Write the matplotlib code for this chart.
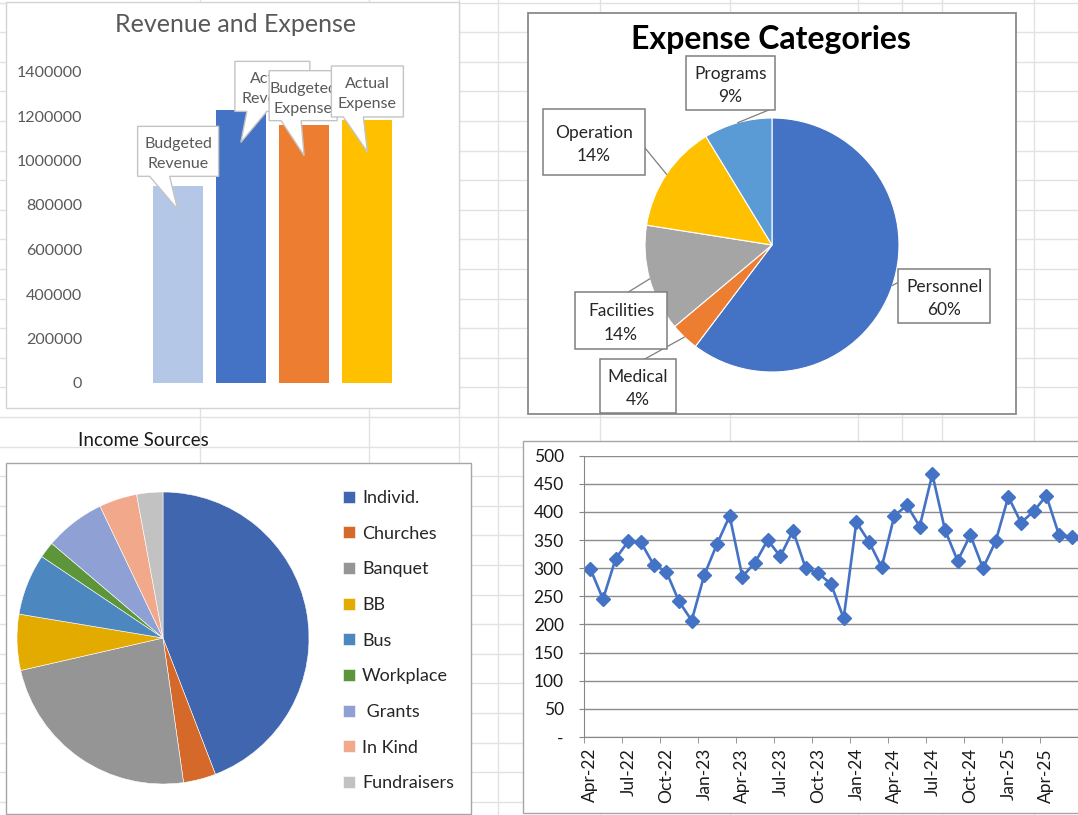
import numpy as np
import pandas as pd
import matplotlib
matplotlib.use("Agg")
import matplotlib.pyplot as plt
from matplotlib.patches import Rectangle, Polygon

plt.rcParams["font.family"] = ["Lato", "DejaVu Sans"]

W, H = 1078, 815

# ---------------- DATA ----------------
bar_names = ["Budgeted Revenue", "Actual Revenue", "Budgeted Expense", "Actual Expense"]
bar_values = [887000, 1229000, 1161000, 1180000]
bar_colors = ["#B4C7E7", "#4472C4", "#ED7D31", "#FFC000"]

exp_names = ["Personnel", "Medical", "Facilities", "Operation", "Programs"]
exp_values = [60.3, 3.6, 13.6, 13.8, 8.7]
exp_colors = ["#4472C4", "#ED7D31", "#A5A5A5", "#FFC000", "#5B9BD5"]

inc_names = ["Individ.", "Churches", "Banquet", "BB", "Bus", "Workplace", " Grants", "In Kind", "Fundraisers"]
inc_values = [44.2, 3.6, 23.7, 6.2, 6.8, 1.8, 6.7, 4.2, 2.9]
inc_colors = ["#3F66AE", "#D4692A", "#959595", "#E3AA00", "#4C87C0", "#5D953A", "#8FA1D4", "#F2A88A", "#C2C2C2"]

month_labels = [d.strftime("%b-%y") for d in pd.date_range("2022-04-01", periods=39, freq="MS")]
monthly_counts = [299, 245, 317, 348, 346, 306, 294, 241, 207, 288,
                  343, 393, 285, 310, 350, 321, 367, 300, 291, 272,
                  211, 382, 347, 302, 393, 412, 374, 467, 368, 313,
                  359, 300, 348, 427, 381, 401, 429, 359, 356]

fig = plt.figure(figsize=(W / 100, H / 100), dpi=100)


def px_axes(x0, y0, x1, y1, **kw):
    # axes placed in image pixel coordinates (origin top-left)
    return fig.add_axes([x0 / W, 1 - y1 / H, (x1 - x0) / W, (y1 - y0) / H], **kw)


# ---------------- SHEET BACKGROUND ----------------
bg = px_axes(0, 0, W, H)
bg.set_xlim(0, W)
bg.set_ylim(H, 0)
bg.axis("off")
for y in np.arange(2.5, H, 29.6):
    bg.axhline(y, color="#e2e2e2", lw=1, zorder=1)
for x in [200, 369, 459, 498, 600, 730, 858, 902, 942, 1034]:
    bg.axvline(x, color="#e2e2e2", lw=1, zorder=1)

# chart panels sit above the cell grid
bg.add_patch(Rectangle((6, 2), 453, 406, fc="white", ec="#d4d4d4", lw=1, zorder=3))
bg.add_patch(Rectangle((528, 13), 488, 401, fc="white", ec="#8a8a8a", lw=1.3, zorder=3))
bg.add_patch(Rectangle((6, 463), 465, 351, fc="white", ec="#a6a6a6", lw=1, zorder=3))
bg.add_patch(Rectangle((523, 441), 600, 372, fc="white", ec="#a6a6a6", lw=1, zorder=3))
bg.text(78, 440, "Income Sources", fontsize=13.5, color="#1a1a1a", va="center", ha="left", zorder=4)

# ---------------- REVENUE AND EXPENSE ----------------
ax_bar = px_axes(146, 71.5, 399, 383)
ax_bar.bar(range(len(bar_values)), bar_values, width=0.79, color=bar_colors)
ax_bar.set_xlim(-0.5, 3.5)
ax_bar.set_ylim(0, 1400000)
ax_bar.set_yticks(range(0, 1400001, 200000))
ax_bar.set_yticklabels([str(v) for v in range(0, 1400001, 200000)])
ax_bar.set_xticks([])
ax_bar.tick_params(axis="y", length=0, pad=46, labelsize=11.5, labelcolor="#595959")
ax_bar.patch.set_alpha(0)
for s in ax_bar.spines.values():
    s.set_visible(False)
bg.text(236, 24, "Revenue and Expense", fontsize=18, color="#595959", ha="center", va="center", zorder=4)

# ---------------- EXPENSE CATEGORIES ----------------
ax_exp = px_axes(645, 118, 899, 372)
exp_wedges, _ = ax_exp.pie(exp_values, colors=exp_colors, startangle=90, counterclock=False,
                           wedgeprops=dict(edgecolor="white", linewidth=0.8))
ax_exp.set_xlim(-1, 1)
ax_exp.set_ylim(-1, 1)
bg.text(771, 39, "Expense Categories", fontsize=23, fontweight="bold", color="black",
        ha="center", va="center", zorder=4)

# ---------------- INCOME SOURCES ----------------
ax_inc = px_axes(17, 492, 309, 784)
inc_wedges, _ = ax_inc.pie(inc_values, colors=inc_colors, startangle=90, counterclock=False,
                           wedgeprops=dict(edgecolor="white", linewidth=0.4))
ax_inc.set_xlim(-1, 1)
ax_inc.set_ylim(-1, 1)
ax_inc.legend(inc_wedges, inc_names, loc="upper left", bbox_to_anchor=(343 / W, 1 - 490 / H),
              bbox_transform=fig.transFigure, frameon=False, fontsize=13, labelcolor="#262626",
              handlelength=0.65, handleheight=0.65, handletextpad=0.4, labelspacing=1.09,
              borderpad=0, borderaxespad=0)

# ---------------- MONTHLY LINE ----------------
ax_line = px_axes(584, 455.7, 1078, 737)
x = np.arange(len(monthly_counts))
ax_line.plot(x, monthly_counts, color="#4472C4", lw=1.9, marker="D", markersize=7.5)
ax_line.set_xlim(-0.5, len(monthly_counts) - 0.5)
ax_line.set_ylim(0, 500)
ax_line.set_yticks(range(0, 501, 50))
ax_line.set_yticklabels(["-"] + [str(v) for v in range(50, 501, 50)])
ax_line.set_xticks(x[::3])
ax_line.set_xticklabels(month_labels[::3], rotation=90)
ax_line.set_xticks(np.arange(-0.5, len(monthly_counts), 3), minor=True)
ax_line.tick_params(axis="x", which="major", length=0, pad=8, labelsize=12.5, labelcolor="#1a1a1a")
ax_line.tick_params(axis="x", which="minor", length=4.5, color="#868686")
ax_line.tick_params(axis="y", length=3.6, color="#868686", pad=11, labelsize=12.5, labelcolor="#1a1a1a")
ax_line.yaxis.grid(True, color="#8c8c8c", lw=1)
ax_line.set_axisbelow(True)
for k in ["top", "right"]:
    ax_line.spines[k].set_visible(False)
for k in ["left", "bottom"]:
    ax_line.spines[k].set_color("#868686")

# ---------------- OVERLAY: CALLOUTS / DATA LABELS ----------------
ov = px_axes(0, 0, W, H, zorder=5)
ov.set_xlim(0, W)
ov.set_ylim(H, 0)
ov.axis("off")
ov.patch.set_alpha(0)


def to_px(ax, pt):
    return ov.transData.inverted().transform(ax.transData.transform(pt))


# wedge callouts on the bars: (left, top) offset from tip, width, height
bar_boxes = [(-40, -83, 81, 50), (-6, -81, 75, 50), (-35, -85, 68, 50), (-36, -86, 72, 51)]
for i, (name, v) in enumerate(zip(bar_names, bar_values)):
    tx, ty = to_px(ax_bar, (i, 0.88 * v))
    dx, dy, bw, bh = bar_boxes[i]
    L, T = tx + dx, ty + dy
    R, B = L + bw, T + bh
    poly = [(L, T), (R, T), (R, B), (L + 32, B), (tx, ty), (L + 12, B), (L, B)]
    ov.add_patch(Polygon(poly, closed=True, fc="white", ec="#c4c4c4", lw=1, zorder=10 + 2 * i))
    ov.text((L + R) / 2, (T + B) / 2 + 3, name.replace(" ", "\n"), fontsize=11.5, color="#595959",
            ha="center", va="center", zorder=11 + 2 * i, linespacing=1.55)

# expense pie labels: box (x0, y0, x1, y1) and attach point as fraction of box
exp_boxes = [(898, 269, 990, 323), (600, 359, 676, 413), (575, 292, 667, 349),
             (543, 109, 645, 175), (686, 56, 775, 110)]
exp_attach = [(0.0, 0.25), (0.59, 0.0), (0.58, 0.0), (1.0, 0.59), (0.93, 1.0)]
total = sum(exp_values)
for w, name, v, box, att in zip(exp_wedges, exp_names, exp_values, exp_boxes, exp_attach):
    mid = np.deg2rad((w.theta1 + w.theta2) / 2)
    axp, ayp = to_px(ax_exp, (np.cos(mid), np.sin(mid)))
    x0, y0, x1, y1 = box
    bx, by = x0 + att[0] * (x1 - x0), y0 + att[1] * (y1 - y0)
    ov.plot([axp, bx], [ayp, by], color="#7f7f7f", lw=0.9, zorder=8)
    ov.add_patch(Rectangle((x0, y0), x1 - x0, y1 - y0, fc="white", ec="#7f7f7f", lw=1.1, zorder=9))
    ov.text((x0 + x1) / 2, (y0 + y1) / 2 + 2.5, f"{name}\n{v / total * 100:.0f}%", fontsize=12.5,
            color="#262626", ha="center", va="center", zorder=10, linespacing=1.55)

fig.savefig("out.png", dpi=100)
